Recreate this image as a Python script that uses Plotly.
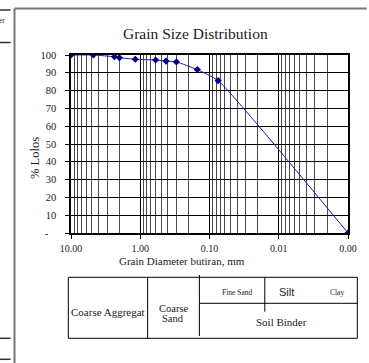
import plotly.graph_objects as go

# Sieve analysis: grain diameter (mm) vs. percent passing
diameter_mm = [10.0, 4.75, 2.36, 2.0, 1.18, 0.6, 0.425, 0.3, 0.15, 0.075, 0.001]
percent_passing = [100.0, 100.0, 99.0, 98.5, 97.6, 97.2, 96.6, 96.1, 91.8, 85.6, 0.0]

x_major_vals = [10, 1, 0.1, 0.01, 0.001]
x_major_text = ["10.00", "1.00", "0.10", "0.01", "0.00"]
y_tick_vals = [0, 10, 20, 30, 40, 50, 60, 70, 80, 90, 100]
y_tick_text = ["-\u00a0\u00a0\u00a0", "10", "20", "30", "40", "50", "60", "70", "80", "90", "100"]

# minor log grid: 2..9 within every decade
minor_vals = [m * 10.0 ** e for e in (-3, -2, -1, 0) for m in range(2, 10)]

W, H = 369, 363
L, R, T, B = 71, 353, 55, 233
SERIF = "Liberation Serif"


def px(x):
    return (x - L) / (R - L)


def py(y):
    return (B - y) / (B - T)


fig = go.Figure()
fig.add_trace(go.Scatter(
    x=diameter_mm, y=percent_passing, mode="lines+markers",
    line=dict(color="#1c1cb0", width=1, shape="spline", smoothing=0.45),
    marker=dict(symbol="diamond", size=5.5, color="#000080"),
    hoverinfo="x+y", showlegend=False,
))

shapes = []


def hline(y, x0, x1, color="black", width=1):
    shapes.append(dict(type="line", xref="paper", yref="paper",
                       x0=px(x0), x1=px(x1), y0=py(y), y1=py(y),
                       line=dict(color=color, width=width)))


def vline(x, y0, y1, color="black", width=1):
    shapes.append(dict(type="line", xref="paper", yref="paper",
                       x0=px(x), x1=px(x), y0=py(y0), y1=py(y1),
                       line=dict(color=color, width=width)))


# page frame
vline(13.5, 8.5, 370, color="#777777", width=2)
hline(8.5, 13.5, 372, color="#777777", width=2)
for yy in (10, 42.5, 338.3, 359.3):
    hline(yy, -2, 9.5, color="#333333", width=1.5)

# soil classification table under the chart
shapes.append(dict(type="rect", xref="paper", yref="paper",
                   x0=px(68.3), x1=px(362.5), y0=py(338.3), y1=py(277.3),
                   line=dict(color="black", width=1)))
vline(149, 277.3, 338.3)
vline(201.7, 275, 336)
hline(303.3, 201.7, 362.5)
vline(268.3, 277.3, 311.7)

annotations = []


def text(s, x, y, size, family=SERIF, **kw):
    annotations.append(dict(text=s, xref="paper", yref="paper",
                            x=px(x), y=py(y), xanchor=kw.pop("xanchor", "center"),
                            yanchor="middle", showarrow=False,
                            font=dict(family=family, size=size, color="#1a1a1a"), **kw))


text("Grain Size Distribution", 197.7, 33.5, 15.5)
text("Grain Diameter butiran, mm", 184, 261, 11)
text("% Lolos", 34.3, 158, 12.5, textangle=-90)
text("er", 6, 20.5, 7.5, xanchor="right")

text("Coarse Aggregat", 108.5, 312, 11)
text("Coarse", 175, 308.3, 10.5)
text("Sand", 175, 318.8, 10.5)
text("Fine Sand", 240, 292.7, 7.5)
text("Silt", 290, 291.7, 11, family="Liberation Sans")
text("Clay", 341.7, 292.7, 7.5)
text("Soil Binder", 285, 321.7, 11)

fig.update_layout(
    width=W, height=H,
    margin=dict(l=L, r=W - R, t=T, b=H - B),
    paper_bgcolor="white", plot_bgcolor="white",
    shapes=shapes, annotations=annotations,
    font=dict(family=SERIF, size=10, color="#1a1a1a"),
)

fig.update_xaxes(
    type="log", range=[1, -3],
    tickvals=x_major_vals, ticktext=x_major_text,
    ticks="outside", ticklen=4, tickcolor="black", ticklabelstandoff=1,
    showgrid=True, gridcolor="black", gridwidth=1,
    minor=dict(tickvals=minor_vals, showgrid=True, gridcolor="#4a4a4a", gridwidth=1, ticks=""),
    showline=True, linecolor="black", linewidth=1.5, mirror=True,
    tickfont=dict(family=SERIF, size=10), zeroline=False,
)
fig.update_yaxes(
    range=[0, 100], tickvals=y_tick_vals, ticktext=y_tick_text,
    ticks="outside", ticklen=4, tickcolor="black", ticklabelstandoff=7,
    showgrid=True, gridcolor="black", gridwidth=1,
    showline=True, linecolor="black", linewidth=1.5, mirror=True,
    tickfont=dict(family=SERIF, size=10.5), zeroline=False,
)

fig.write_html("out.html")
